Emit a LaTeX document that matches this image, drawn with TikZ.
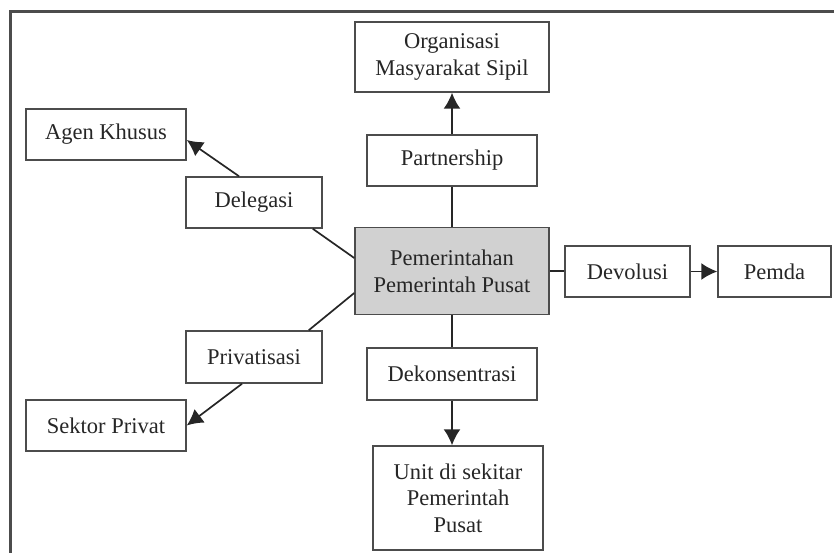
\documentclass[tikz,border=0pt]{standalone}
\usepackage{fontspec}
\setmainfont{Liberation Serif}
\usetikzlibrary{arrows.meta,calc}
\begin{document}
\begin{tikzpicture}[x=1pt,y=-1pt,
  box/.style={draw=black!70, line width=1.5pt, rectangle, align=center, inner sep=0pt,
    font=\fontsize{22.5}{26.7}\selectfont, text=black!85},
  conn/.style={draw=black!85, line width=1.7pt},
  arr/.style={conn, -{Latex[length=16pt,width=17pt]}}]
\useasboundingbox (0,0) rectangle (834,553);
\draw[line width=3pt, black!70] (10,553) -- (10,12) -- (834,12);
\node[box, minimum width=194pt, minimum height=70pt] (org) at (452,57) {Organisasi\\Masyarakat Sipil};
\node[box, minimum width=160pt, minimum height=51pt] (agen) at (106,134.5) {Agen Khusus};
\node[box, minimum width=136pt, minimum height=51pt] (deleg) at (254,202.5) {Delegasi};
\node[box, minimum width=170pt, minimum height=51pt] (partner) at (452,160.5) {Partnership};
\node[box, minimum width=194pt, minimum height=87pt, fill=black!18] (pusat) at (452,271) {Pemerintahan\\Pemerintah Pusat};
\node[box, minimum width=125pt, minimum height=51pt] (devol) at (627.5,271.5) {Devolusi};
\node[box, minimum width=113pt, minimum height=51pt] (pemda) at (774.5,271.5) {Pemda};
\node[box, minimum width=136pt, minimum height=52pt] (priv) at (254,357) {Privatisasi};
\node[box, minimum width=160pt, minimum height=51pt] (sektor) at (106,425.5) {Sektor Privat};
\node[box, minimum width=170pt, minimum height=52pt] (dekon) at (452,374) {Dekonsentrasi};
\node[box, minimum width=170pt, minimum height=104pt] (unit) at (458,498) {Unit di sekitar\\Pemerintah\\Pusat};
% connectors
\draw[arr] (partner.north) -- (org.south);
\draw[conn] (pusat.north) -- (partner.south);
\draw[arr] ([xshift=-15pt]deleg.north) -- ([yshift=-5.5pt]agen.east);
\draw[conn] ([yshift=13pt]pusat.west) -- ([xshift=-10pt]deleg.south east);
\draw[conn] ([yshift=-22pt]pusat.west) -- ([xshift=-14pt]priv.north east);
\draw[arr] ([xshift=-12pt]priv.south) -- (sektor.east);
\draw[conn] (pusat.east) -- (pusat.east -| devol.west);
\draw[arr] (devol.east) -- (pemda.west);
\draw[conn] (pusat.south) -- (dekon.north);
\draw[arr] (dekon.south) -- (dekon.south |- unit.north);
\end{tikzpicture}
\end{document}
